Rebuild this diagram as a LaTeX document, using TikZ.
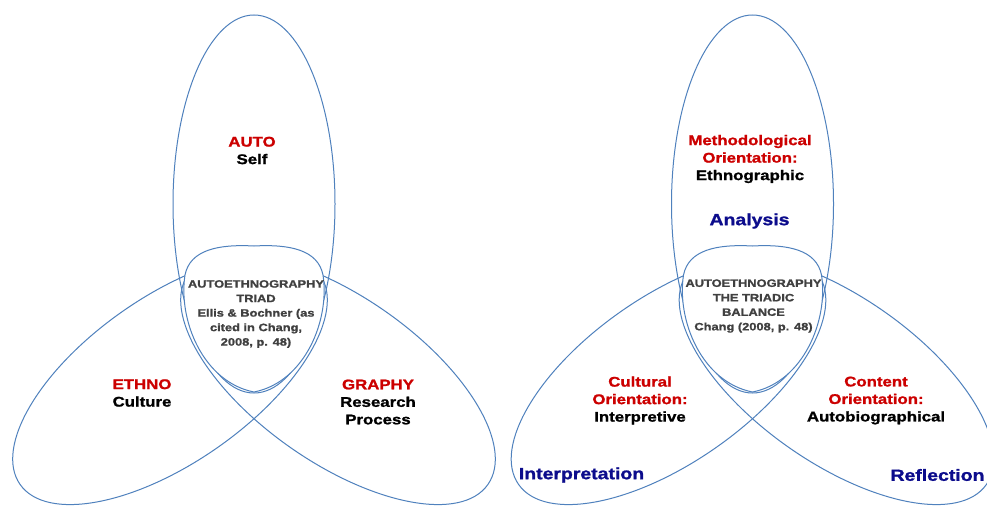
\documentclass[tikz,border=0pt]{standalone}
\usepackage{fontspec}
\setmainfont{Liberation Sans}[FakeStretch=1.2, BoldFeatures={FakeBold=1.3}]
\usepackage{xcolor}
\usetikzlibrary{shapes.geometric}
\definecolor{triadblue}{RGB}{79,129,189}
\definecolor{triadred}{RGB}{204,0,0}
\definecolor{triadnavy}{RGB}{12,12,140}
\tikzset{
    petal/.style={ellipse, draw=triadblue, line width=1pt, minimum width=162pt, minimum height=378pt, inner sep=0pt},
    sidepetal/.style={petal, minimum width=166pt, minimum height=366pt},
    blob/.style={draw=triadblue, line width=1pt, fill=white},
    lbl/.style={align=center, inner sep=0pt, font=\fontsize{14}{17.5}\selectfont\bfseries},
    midlbl/.style={align=center, inner sep=0pt, text=black!75, font=\fontsize{10.7}{14.5}\selectfont\bfseries},
    keyword/.style={inner sep=0pt, text=triadnavy, font=\fontsize{16.2}{19}\selectfont\bfseries}
}

\begin{document}
\begin{tikzpicture}[x=1pt, y=-1pt]
    \useasboundingbox (0,0) rectangle (987,506);
    \fill[white] (0,0) rectangle (987,506);
    \clip (0,0) rectangle (987,506);

    % three petals and the middle, once per triad
    \foreach \dx/\side in {0/l, 498.5/r}{
        \begin{scope}[shift={(\dx,0)}]
            \node (top-\side) [petal] at (254,204) {};
            \node (left-\side) [sidepetal, rotate=-55] at (170,379.5) {};
            \node (right-\side) [sidepetal, rotate=55] at (338,379.5) {};
            \draw [blob] (254,246) .. controls (290,244) and (318,250) .. (323,275)
                .. controls (330,320) and (305,382) .. (254,392)
                .. controls (203,382) and (178,320) .. (185,275)
                .. controls (190,250) and (218,244) .. (254,246) -- cycle;
        \end{scope}
    }

    % left triad
    \node (autotxt) [lbl] at (252,150.5) {\textcolor{triadred}{AUTO}\\Self};
    \node (ethnotxt) [lbl] at (142,393) {\textcolor{triadred}{ETHNO}\\Culture};
    \node (graphytxt) [lbl] at (378,402) {\textcolor{triadred}{GRAPHY}\\Research\\Process};
    \node (triadtxt) [midlbl] at (256,314) {AUTOETHNOGRAPHY\\TRIAD\\Ellis \& Bochner (as\\cited in Chang,\\2008, p. 48)};

    % right triad
    \node (methodtxt) [lbl] at (750,159) {\textcolor{triadred}{Methodological}\\\textcolor{triadred}{Orientation:}\\Ethnographic};
    \node (analysis) [keyword] at (749.5,221) {Analysis};
    \node (culturaltxt) [lbl] at (640,400.5) {\textcolor{triadred}{Cultural}\\\textcolor{triadred}{Orientation:}\\Interpretive};
    \node (contenttxt) [lbl] at (876,400.5) {\textcolor{triadred}{Content}\\\textcolor{triadred}{Orientation:}\\Autobiographical};
    \node (balancetxt) [midlbl] at (753.5,306) {AUTOETHNOGRAPHY\\THE TRIADIC\\BALANCE\\Chang (2008, p. 48)};
    \node (interp) [keyword] at (581.5,475) {Interpretation};
    \node (reflection) [keyword] at (937.5,475) {Reflection};
\end{tikzpicture}
\end{document}
